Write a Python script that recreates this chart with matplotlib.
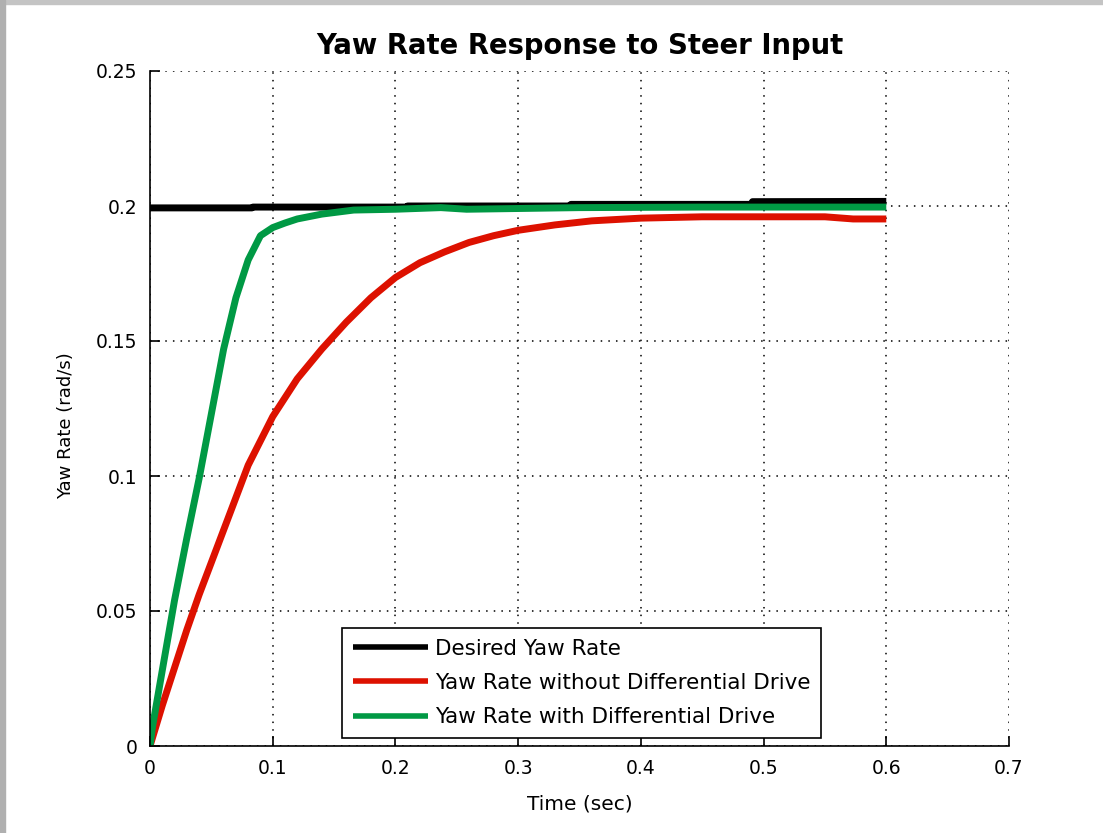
import matplotlib.pyplot as plt
import matplotlib.patches as mpatches

# --- data ---
t_desired = [0.0, 0.083, 0.084, 0.209, 0.21, 0.342, 0.343, 0.49, 0.491, 0.6]
y_desired = [0.1993, 0.1993, 0.1996, 0.1996, 0.2, 0.2, 0.2006, 0.2006, 0.2016, 0.2017]

t_without = [0.0, 0.01, 0.02, 0.03, 0.04, 0.05, 0.06, 0.07, 0.08, 0.09, 0.1,
             0.12, 0.14, 0.16, 0.18, 0.2, 0.22, 0.24, 0.26, 0.28, 0.3,
             0.33, 0.36, 0.4, 0.45, 0.5, 0.55, 0.573, 0.6]
y_without = [0.0, 0.015, 0.029, 0.043, 0.056, 0.068, 0.080, 0.092, 0.104, 0.113, 0.122,
             0.136, 0.147, 0.157, 0.166, 0.1735, 0.179, 0.183, 0.1865, 0.189, 0.191,
             0.193, 0.1945, 0.1955, 0.196, 0.196, 0.196, 0.1952, 0.1952]

t_with = [0.0, 0.002, 0.01, 0.02, 0.03, 0.04, 0.05, 0.06, 0.07, 0.08, 0.09,
          0.1, 0.11, 0.12, 0.14, 0.166, 0.2, 0.237, 0.258, 0.35, 0.45, 0.6]
y_with = [0.0, 0.007, 0.028, 0.054, 0.077, 0.099, 0.123, 0.147, 0.166, 0.180, 0.189,
          0.1920, 0.1937, 0.1952, 0.197, 0.1985, 0.1988, 0.1994, 0.1988, 0.1994, 0.1996, 0.1996]

labels = ['Desired Yaw Rate', 'Yaw Rate without Differential Drive', 'Yaw Rate with Differential Drive']
colors = ['#000000', '#dd1100', '#009944']

plt.rcParams['font.family'] = ['DejaVu Sans']

fig = plt.figure(figsize=(11.03, 8.33), dpi=100)
# window frame (screenshot border)
fig.patches.append(mpatches.Rectangle((0, 1 - 4 / 833), 1, 4 / 833, transform=fig.transFigure,
                                      color='#c4c4c4', zorder=0))
fig.patches.append(mpatches.Rectangle((0, 0), 5 / 1103, 1, transform=fig.transFigure,
                                      color='#b0b0b0', zorder=0))

ax = fig.add_axes([150 / 1103, 87 / 833, 859 / 1103, 675 / 833])
ax.plot(t_desired, y_desired, color=colors[0], lw=5, label=labels[0], solid_capstyle='butt')
ax.plot(t_without, y_without, color=colors[1], lw=5, label=labels[1], solid_capstyle='butt')
ax.plot(t_with, y_with, color=colors[2], lw=5, label=labels[2], solid_capstyle='butt')

ax.set_xlim(0, 0.7)
ax.set_ylim(0, 0.25)
ax.set_xticks([0, 0.1, 0.2, 0.3, 0.4, 0.5, 0.6, 0.7])
ax.set_xticklabels(['0', '0.1', '0.2', '0.3', '0.4', '0.5', '0.6', '0.7'])
ax.set_yticks([0, 0.05, 0.1, 0.15, 0.2, 0.25])
ax.set_yticklabels(['0', '0.05', '0.1', '0.15', '0.2', '0.25'])
ax.grid(True, color='black', linestyle=(0, (1, 4)), linewidth=1.1)
ax.set_axisbelow(True)
ax.spines['top'].set_visible(False)
ax.spines['right'].set_visible(False)
ax.spines['left'].set_linewidth(1.2)
ax.spines['bottom'].set_linewidth(1.2)
ax.tick_params(direction='in', length=7, width=1.2, labelsize=13.5)
ax.tick_params(axis='y', pad=9)
ax.tick_params(axis='x', pad=9)

ax.set_title('Yaw Rate Response to Steer Input', fontsize=19.8, fontweight='bold', pad=12)
ax.set_xlabel('Time (sec)', fontsize=14.5, labelpad=12)
ax.set_ylabel('Yaw Rate (rad/s)', fontsize=13)
ax.yaxis.set_label_coords(-0.087, 0.474)

leg = ax.legend(loc='lower left', bbox_to_anchor=(0.2235, 0.012), fontsize=15.5,
                fancybox=False, framealpha=1, edgecolor='black', handlelength=3.5,
                handletextpad=0.3, borderpad=0.5, labelspacing=0.66, borderaxespad=0)
leg.get_frame().set_linewidth(1.2)
for h in leg.get_lines():
    h.set_linewidth(4)

fig.savefig('out.png', dpi=100)
